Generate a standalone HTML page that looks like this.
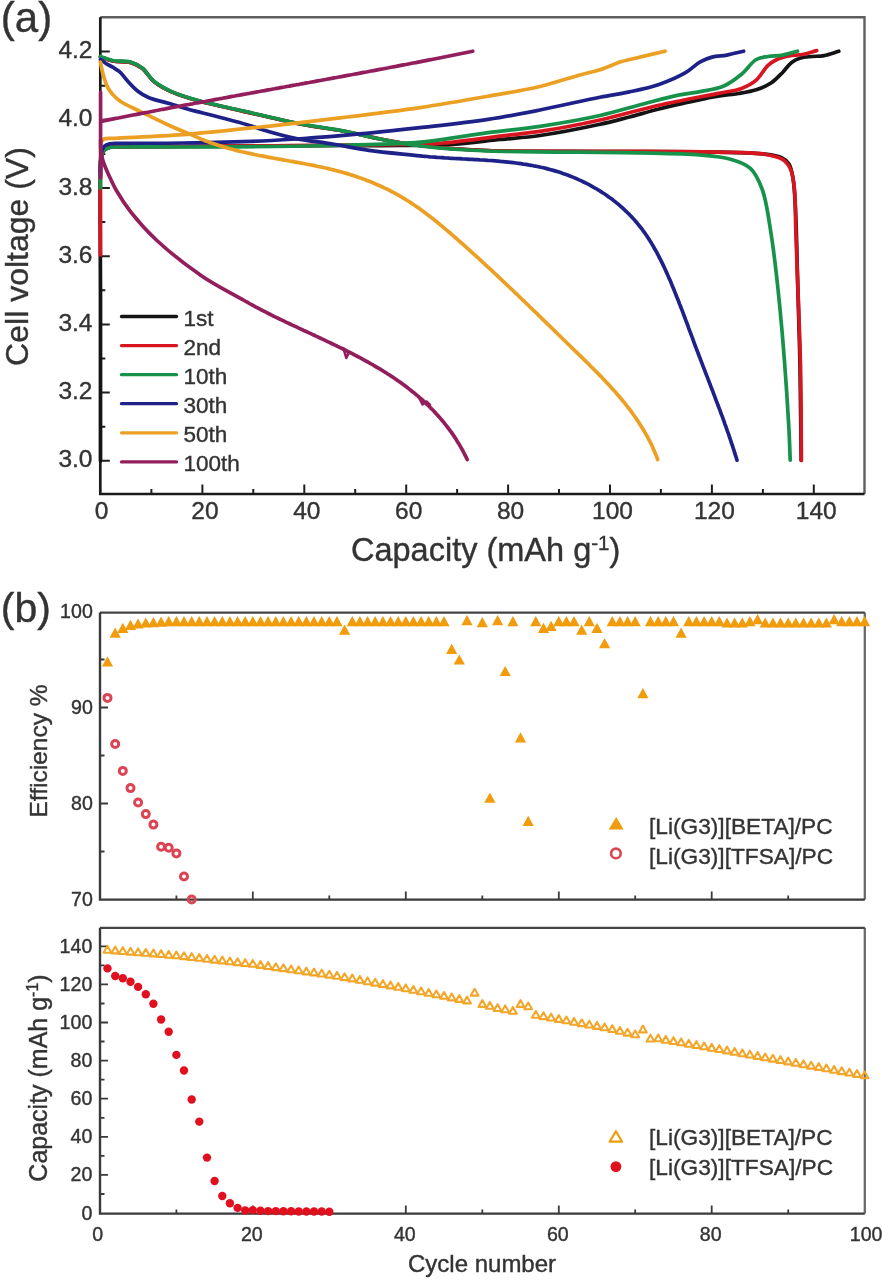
<!DOCTYPE html><html><head><meta charset="utf-8"><style>html,body{margin:0;padding:0;background:#fff;}svg{display:block;font-family:"Liberation Sans",sans-serif;filter:blur(0.7px);}text{stroke:#363636;stroke-width:0.4px;fill:#333;}</style></head><body>
<svg width="882" height="1280" viewBox="0 0 882 1280">
<rect width="882" height="1280" fill="#fff"/>
<path d="M100.3 17.2 H864.5 V494.0" fill="none" stroke="#5e5e5e" stroke-width="2.4"/>
<path d="M100.3 17.2 V494.0 H864.5" fill="none" stroke="#1a1a1a" stroke-width="2.7"/>
<path d="M100.3 460.8 h9.5 M100.3 426.7 h5.0 M100.3 392.6 h9.5 M100.3 358.5 h5.0 M100.3 324.4 h9.5 M100.3 290.3 h5.0 M100.3 256.2 h9.5 M100.3 222.1 h5.0 M100.3 188.0 h9.5 M100.3 153.9 h5.0 M100.3 119.8 h9.5 M100.3 85.7 h5.0 M100.3 51.6 h9.5 M151.4 494.0 v-5.0 M202.4 494.0 v-9.5 M253.3 494.0 v-5.0 M304.3 494.0 v-9.5 M355.2 494.0 v-5.0 M406.2 494.0 v-9.5 M457.1 494.0 v-5.0 M508.1 494.0 v-9.5 M559.0 494.0 v-5.0 M610.0 494.0 v-9.5 M660.9 494.0 v-5.0 M711.9 494.0 v-9.5 M762.9 494.0 v-5.0 M813.8 494.0 v-9.5" stroke="#1e1e1e" stroke-width="2"/>
<text x="92.5" y="467.3" font-size="24.5" fill="#2b2b2b" text-anchor="end">3.0</text>
<text x="92.5" y="399.1" font-size="24.5" fill="#2b2b2b" text-anchor="end">3.2</text>
<text x="92.5" y="330.9" font-size="24.5" fill="#2b2b2b" text-anchor="end">3.4</text>
<text x="92.5" y="262.7" font-size="24.5" fill="#2b2b2b" text-anchor="end">3.6</text>
<text x="92.5" y="194.5" font-size="24.5" fill="#2b2b2b" text-anchor="end">3.8</text>
<text x="92.5" y="126.3" font-size="24.5" fill="#2b2b2b" text-anchor="end">4.0</text>
<text x="92.5" y="58.1" font-size="24.5" fill="#2b2b2b" text-anchor="end">4.2</text>
<text x="101.5" y="519.2" font-size="24.5" fill="#2b2b2b" text-anchor="middle">0</text>
<text x="204.9" y="519.2" font-size="24.5" fill="#2b2b2b" text-anchor="middle">20</text>
<text x="306.8" y="519.2" font-size="24.5" fill="#2b2b2b" text-anchor="middle">40</text>
<text x="408.7" y="519.2" font-size="24.5" fill="#2b2b2b" text-anchor="middle">60</text>
<text x="510.6" y="519.2" font-size="24.5" fill="#2b2b2b" text-anchor="middle">80</text>
<text x="612.5" y="519.2" font-size="24.5" fill="#2b2b2b" text-anchor="middle">100</text>
<text x="714.4" y="519.2" font-size="24.5" fill="#2b2b2b" text-anchor="middle">120</text>
<text x="816.3" y="519.2" font-size="24.5" fill="#2b2b2b" text-anchor="middle">140</text>
<text x="351.0" y="561.0" font-size="32.5" fill="#262626" text-anchor="start">Capacity (mAh g<tspan dy="-11.5" font-size="20.5">-1</tspan><tspan dy="11.5">)</tspan></text>
<text transform="translate(27.5 256.5) rotate(-90)" x="0" y="0" font-size="32" fill="#262626" text-anchor="middle">Cell voltage (V)</text>
<text x="0.8" y="31.5" font-size="42.0" fill="#1a1a1a" text-anchor="start">(a)</text>
<path d="M100.5 461.0 C100.5 407.3 100.5 351.3 100.5 300.0 C100.5 253.0 99.5 183.5 100.5 165.0 C100.8 160.2 100.7 158.6 101.5 156.0 C102.2 153.7 103.0 151.5 104.5 150.0 C105.9 148.6 107.8 147.9 110.0 147.3 C112.8 146.6 115.2 146.9 120.0 146.8 C132.0 146.5 160.2 146.6 183.0 146.5 C210.1 146.3 244.0 146.0 272.0 145.8 C297.0 145.6 320.6 145.5 343.0 145.5 C363.0 145.5 381.6 145.7 400.0 145.5 C417.2 145.3 433.4 145.5 450.0 144.5 C466.7 143.5 484.3 141.1 500.0 139.5 C514.1 138.1 525.4 137.6 540.0 135.5 C558.0 132.9 583.6 127.9 600.0 124.3 C611.6 121.8 619.7 119.5 629.5 117.0 C639.3 114.4 649.2 111.5 659.0 109.0 C668.8 106.5 679.1 104.3 688.4 102.2 C696.7 100.4 705.0 98.5 712.0 97.2 C717.5 96.2 722.1 95.5 726.8 94.9 C731.0 94.3 734.3 94.2 738.6 93.5 C743.9 92.6 750.7 91.6 756.2 89.8 C761.5 88.1 766.6 86.0 771.0 83.0 C775.4 80.1 779.2 75.8 782.8 72.2 C786.0 68.9 788.4 64.8 791.6 62.4 C794.4 60.3 797.2 59.0 800.5 58.0 C804.1 56.9 808.4 56.9 812.3 56.5 C816.2 56.1 819.9 56.4 824.0 55.6 C828.7 54.7 833.9 52.7 838.8 51.2" fill="none" stroke="#141414" stroke-width="3.7" stroke-linecap="round" stroke-linejoin="round"/>
<path d="M100.5 57.0 C104.6 58.3 108.2 60.1 112.7 61.0 C118.0 62.1 125.2 61.0 130.4 62.4 C134.9 63.6 138.5 65.5 142.2 68.3 C146.5 71.6 149.3 77.8 154.0 81.6 C159.0 85.7 165.0 88.9 171.7 91.9 C179.5 95.4 188.2 98.0 198.2 100.8 C211.0 104.4 226.6 107.5 242.4 111.1 C260.6 115.3 283.4 120.8 301.4 124.3 C316.4 127.2 329.6 128.5 343.0 131.0 C355.7 133.4 367.4 136.6 380.0 139.0 C393.0 141.5 404.9 143.7 420.0 145.5 C439.4 147.8 461.7 149.4 487.0 150.5 C519.8 151.9 561.9 151.2 600.0 151.5 C638.9 151.8 687.6 151.3 718.0 152.1 C737.2 152.6 753.3 152.6 765.0 154.2 C772.1 155.1 777.8 155.9 782.0 158.0 C785.1 159.5 787.2 161.2 789.0 164.0 C791.2 167.5 792.0 172.3 793.0 178.0 C794.5 186.4 794.8 197.4 795.5 210.0 C796.5 228.2 796.8 253.1 797.5 277.0 C798.3 304.6 799.4 335.9 800.0 366.0 C800.6 397.0 800.8 429.0 801.2 460.5" fill="none" stroke="#141414" stroke-width="3.7" stroke-linecap="round" stroke-linejoin="round"/>
<path d="M100.5 255.0 C100.5 236.7 100.5 216.3 100.5 200.0 C100.5 187.0 100.1 172.8 100.5 165.0 C100.7 161.0 100.7 158.6 101.5 156.0 C102.2 153.7 103.0 151.5 104.5 150.0 C105.9 148.6 107.8 147.9 110.0 147.3 C112.8 146.6 115.2 146.9 120.0 146.8 C132.0 146.5 160.2 146.6 183.0 146.5 C210.1 146.3 244.0 146.0 272.0 145.8 C297.0 145.6 320.6 145.4 343.0 145.2 C363.0 145.0 382.4 144.9 400.0 144.5 C415.3 144.1 426.8 144.2 442.7 143.0 C462.8 141.4 492.7 136.9 510.7 134.8 C522.5 133.4 528.5 133.2 540.0 131.4 C556.5 128.9 580.1 124.4 600.0 120.0 C619.8 115.6 639.3 109.6 659.0 105.2 C678.6 100.8 702.8 96.5 718.0 93.4 C727.6 91.4 734.7 91.0 741.5 88.4 C747.2 86.3 751.9 83.8 756.2 80.1 C760.8 76.2 764.1 69.0 768.0 65.4 C771.0 62.7 773.6 61.1 776.9 59.5 C780.4 57.8 784.5 56.8 788.7 55.9 C793.3 55.0 798.7 55.2 803.4 54.3 C808.0 53.4 812.3 51.8 816.7 50.6" fill="none" stroke="#d8151f" stroke-width="3.7" stroke-linecap="round" stroke-linejoin="round"/>
<path d="M100.5 57.0 C104.6 58.3 108.2 60.1 112.7 61.0 C118.0 62.1 125.2 61.0 130.4 62.4 C134.9 63.6 138.5 65.5 142.2 68.3 C146.5 71.6 149.3 77.8 154.0 81.6 C159.0 85.7 165.0 88.9 171.7 91.9 C179.5 95.4 188.2 98.0 198.2 100.8 C211.0 104.4 226.6 107.5 242.4 111.1 C260.6 115.3 283.4 120.8 301.4 124.3 C316.4 127.2 329.6 128.5 343.0 131.0 C355.7 133.4 367.4 136.6 380.0 139.0 C393.0 141.5 404.9 143.7 420.0 145.5 C439.4 147.8 461.7 149.5 487.0 150.5 C519.8 151.8 561.9 151.0 600.0 151.3 C638.9 151.6 687.6 151.3 718.0 152.1 C737.2 152.6 753.2 152.2 765.0 154.2 C772.4 155.5 778.4 156.6 782.8 159.5 C786.4 161.9 788.6 164.9 790.5 169.0 C793.0 174.4 793.6 181.8 794.5 190.0 C795.7 201.2 795.3 216.1 795.8 230.0 C796.3 245.0 796.9 258.9 797.5 277.0 C798.4 302.0 799.8 335.9 800.5 366.0 C801.2 397.0 801.1 429.0 801.4 460.5" fill="none" stroke="#d8151f" stroke-width="3.7" stroke-linecap="round" stroke-linejoin="round"/>
<path d="M100.5 188.0 C100.5 182.0 100.5 174.1 100.5 170.0 C100.5 167.8 100.4 166.9 100.5 165.0 C100.6 162.4 100.7 158.6 101.5 156.0 C102.2 153.7 103.0 151.4 104.5 150.0 C105.9 148.6 107.8 148.0 110.0 147.5 C112.8 146.8 115.2 147.1 120.0 147.0 C132.0 146.7 160.2 147.1 183.0 147.0 C210.1 146.9 243.2 146.9 272.0 146.5 C299.0 146.2 325.3 145.8 350.7 145.0 C374.5 144.3 397.1 144.3 420.0 142.2 C442.8 140.1 466.8 135.4 488.0 132.6 C506.5 130.2 522.1 129.0 540.0 126.3 C559.3 123.4 581.6 119.6 600.0 115.5 C615.9 111.9 630.3 107.3 644.2 103.7 C656.6 100.5 669.3 97.0 679.6 94.9 C687.4 93.3 693.1 93.0 700.2 91.6 C707.8 90.1 716.7 89.1 723.8 86.0 C730.4 83.1 736.1 78.6 741.5 74.2 C746.9 69.8 751.2 62.4 756.2 59.5 C760.1 57.3 763.8 57.2 768.0 56.5 C772.6 55.7 777.9 56.0 782.8 55.1 C787.7 54.2 792.6 52.5 797.5 51.2" fill="none" stroke="#17924a" stroke-width="3.7" stroke-linecap="round" stroke-linejoin="round"/>
<path d="M100.5 56.5 C104.6 57.8 108.2 59.6 112.7 60.5 C118.0 61.6 125.2 60.5 130.4 62.0 C134.9 63.3 138.5 65.2 142.2 68.0 C146.5 71.3 149.3 77.5 154.0 81.3 C159.0 85.4 165.0 88.6 171.7 91.6 C179.5 95.1 188.2 97.7 198.2 100.5 C211.0 104.1 226.6 107.2 242.4 110.8 C260.6 115.0 283.4 120.5 301.4 124.0 C316.4 126.9 329.6 128.3 343.0 130.9 C355.7 133.3 367.4 136.5 380.0 139.0 C393.0 141.6 404.9 144.1 420.0 146.0 C439.4 148.4 466.0 150.1 487.0 151.0 C505.7 151.8 519.5 151.5 540.0 151.8 C568.5 152.2 612.8 152.2 642.0 152.9 C664.0 153.4 683.9 153.6 700.0 155.0 C711.6 156.0 720.9 156.5 729.7 159.0 C737.4 161.2 745.0 163.4 750.4 168.3 C755.9 173.3 758.9 180.5 762.1 189.0 C766.5 200.7 768.3 216.5 771.0 233.2 C774.4 254.6 777.1 279.4 779.8 306.9 C783.2 341.6 787.1 397.0 788.7 424.8 C789.6 440.0 789.7 448.4 790.2 460.2" fill="none" stroke="#17924a" stroke-width="3.7" stroke-linecap="round" stroke-linejoin="round"/>
<path d="M100.5 175.0 C100.5 170.7 100.3 166.0 100.5 162.0 C100.7 158.4 100.7 154.8 101.5 152.0 C102.2 149.7 103.0 147.4 104.5 146.0 C105.9 144.7 107.8 144.3 110.0 143.8 C112.8 143.2 115.2 143.5 120.0 143.4 C132.0 143.1 160.2 143.4 183.0 143.0 C210.1 142.5 247.8 141.6 272.0 140.5 C288.7 139.7 299.4 138.8 314.4 137.7 C331.4 136.4 351.0 134.8 368.9 133.1 C386.2 131.5 401.8 129.8 420.0 127.7 C441.1 125.3 466.9 122.6 488.0 119.4 C506.5 116.6 522.1 113.5 540.0 110.0 C559.3 106.2 583.5 100.4 600.0 97.2 C611.5 94.9 619.7 94.0 629.5 91.9 C639.4 89.8 649.6 87.8 659.0 84.5 C668.2 81.3 678.2 77.0 685.5 72.7 C691.3 69.3 695.4 64.5 700.2 61.8 C704.2 59.6 707.8 58.2 712.0 57.1 C716.6 55.9 721.7 56.0 726.8 55.1 C732.2 54.1 738.0 52.5 743.6 51.2" fill="none" stroke="#1e2288" stroke-width="3.7" stroke-linecap="round" stroke-linejoin="round"/>
<path d="M100.5 59.5 C102.3 60.8 104.0 62.2 106.0 63.5 C108.1 64.8 110.5 65.9 112.7 67.2 C115.0 68.6 117.3 69.8 119.5 71.7 C122.2 74.1 124.5 77.7 127.4 80.8 C130.5 84.2 133.9 88.1 137.6 91.0 C141.1 93.8 144.5 95.9 149.0 97.8 C154.7 100.2 162.3 101.4 169.4 103.5 C177.3 105.8 186.7 108.8 194.4 110.9 C201.0 112.7 205.8 113.6 213.0 115.5 C223.0 118.1 240.3 122.6 248.8 125.2 C253.6 126.7 255.2 127.5 260.0 129.0 C268.6 131.6 284.1 136.1 296.3 138.6 C308.3 141.1 320.5 142.0 332.6 144.0 C344.7 146.0 355.7 148.5 368.9 150.4 C384.4 152.6 403.0 154.0 420.0 155.8 M420.0 155.8 L422.4 156.1 L424.8 156.3 L427.2 156.5 L429.6 156.8 L432.1 157.0 L434.5 157.2 L437.0 157.4 L439.4 157.5 L441.9 157.7 L444.4 157.9 L446.9 158.0 L449.4 158.2 L451.9 158.3 L454.4 158.5 L457.0 158.6 L459.5 158.7 L462.0 158.9 L464.6 159.0 L467.1 159.1 L469.7 159.3 L472.2 159.4 L474.8 159.6 L477.3 159.7 L479.9 159.9 L482.5 160.0 L485.0 160.2 L487.6 160.4 L490.2 160.5 L492.7 160.7 L495.3 160.9 L497.9 161.1 L500.4 161.4 L503.0 161.6 L505.6 161.8 L508.1 162.1 L510.7 162.4 L513.2 162.7 L515.8 163.0 L518.3 163.3 L520.9 163.7 L523.4 164.1 L525.9 164.4 L528.5 164.9 L531.0 165.3 L533.5 165.8 L536.0 166.2 L538.5 166.7 L541.0 167.3 L543.4 167.8 L545.9 168.4 L548.4 169.1 L550.8 169.7 L553.2 170.4 L555.7 171.1 L558.1 171.8 L560.5 172.6 L562.8 173.4 L565.2 174.2 L567.6 175.1 L569.9 176.0 L572.2 176.9 L574.6 177.9 L576.8 178.8 L579.1 179.9 L581.4 180.9 L583.6 182.0 L585.9 183.1 L588.1 184.2 L590.3 185.4 L592.4 186.6 L594.6 187.8 L596.7 189.0 L598.9 190.3 L600.9 191.6 L603.0 193.0 L605.1 194.3 L607.1 195.7 L609.1 197.2 L611.1 198.6 L613.1 200.1 L615.0 201.6 L616.9 203.1 L618.8 204.7 L620.7 206.3 L622.5 207.9 L624.3 209.6 L626.1 211.3 L627.8 213.0 L629.6 214.7 L631.3 216.5 L632.9 218.3 L634.6 220.1 L636.2 222.0 L637.8 223.9 L639.3 225.8 L640.9 227.7 L642.4 229.7 L643.8 231.7 L645.3 233.7 L646.7 235.7 L648.0 237.8 L649.4 239.9 L650.7 242.0 L652.0 244.1 L653.3 246.3 L654.5 248.5 L655.8 250.7 L657.0 252.9 L658.2 255.1 L659.3 257.3 L660.5 259.6 L661.6 261.9 L662.7 264.1 L663.8 266.4 L664.9 268.7 L665.9 271.1 L667.0 273.4 L668.0 275.7 L669.0 278.1 L670.1 280.4 L671.1 282.8 L672.0 285.1 L673.0 287.5 L674.0 289.8 L674.9 292.2 L675.9 294.6 L676.8 297.0 L677.8 299.3 L678.7 301.7 L679.6 304.1 L680.6 306.5 L681.5 308.9 L682.4 311.2 L683.3 313.6 L684.2 316.0 L685.1 318.4 L686.0 320.8 L686.9 323.2 L687.8 325.5 L688.6 327.9 L689.5 330.3 L690.4 332.7 L691.3 335.1 L692.2 337.4 L693.1 339.8 L693.9 342.2 L694.8 344.6 L695.7 346.9 L696.6 349.3 L697.5 351.7 L698.4 354.0 L699.3 356.4 L700.2 358.7 L701.1 361.1 L702.0 363.4 L702.9 365.8 L703.8 368.1 L704.7 370.4 L705.6 372.8 L706.5 375.1 L707.4 377.4 L708.3 379.8 L709.2 382.1 L710.1 384.4 L711.0 386.8 L711.9 389.1 L712.8 391.4 L713.7 393.8 L714.6 396.1 L715.4 398.5 L716.3 400.8 L717.2 403.1 L718.1 405.5 L719.0 407.8 L719.9 410.2 L720.7 412.5 L721.6 414.8 L722.5 417.2 L723.3 419.5 L724.2 421.9 L725.0 424.3 L725.9 426.6 L726.7 429.0 L727.5 431.4 L728.4 433.7 L729.2 436.1 L730.0 438.5 L730.8 440.9 L731.6 443.3 L732.4 445.7 L733.2 448.1 L734.0 450.5 L734.7 452.9 L735.5 455.3 L736.3 457.8 L737.0 460.2" fill="none" stroke="#1e2288" stroke-width="3.7" stroke-linecap="round" stroke-linejoin="round"/>
<path d="M101.0 142.0 C102.0 141.0 102.5 139.7 104.0 139.0 C106.4 137.9 109.8 138.6 115.0 138.3 C128.0 137.5 158.8 136.5 183.0 134.7 C210.7 132.6 244.3 128.8 272.0 125.8 C296.2 123.2 316.4 120.8 340.0 117.9 C365.6 114.8 394.4 111.4 420.0 107.6 C443.6 104.1 466.9 100.0 488.0 96.3 C506.5 93.0 523.8 90.4 540.0 86.5 C554.5 83.0 569.7 77.7 580.8 74.7 C588.4 72.6 593.5 71.9 600.0 69.8 C607.1 67.6 616.0 63.2 621.6 61.5 C625.0 60.4 626.2 60.4 630.0 59.5 C637.7 57.7 653.3 54.0 665.0 51.2" fill="none" stroke="#eba024" stroke-width="3.7" stroke-linecap="round" stroke-linejoin="round"/>
<path d="M100.5 62.0 C101.0 64.7 101.4 67.2 102.0 70.0 C102.7 73.1 103.7 76.6 104.7 79.7 C105.7 82.6 106.6 85.5 108.0 88.0 C109.3 90.4 111.0 92.5 112.7 94.4 C114.3 96.3 116.1 98.0 118.0 99.5 C119.9 101.0 121.4 102.0 124.0 103.5 C128.2 105.9 134.7 108.7 141.0 111.8 C148.8 115.6 158.3 120.5 167.2 124.5 C176.1 128.6 185.3 132.2 194.4 136.1 M194.4 136.1 L196.7 137.1 L199.0 138.1 L201.3 139.1 L203.6 140.0 L205.9 141.0 L208.3 141.8 L210.6 142.7 L213.0 143.5 L215.3 144.3 L217.7 145.1 L220.1 145.9 L222.5 146.6 L224.9 147.3 L227.3 148.0 L229.8 148.7 L232.2 149.3 L234.6 150.0 L237.1 150.6 L239.5 151.2 L242.0 151.8 L244.4 152.3 L246.9 152.9 L249.4 153.4 L251.9 153.9 L254.4 154.5 L256.8 155.0 L259.3 155.5 L261.8 155.9 L264.3 156.4 L266.8 156.9 L269.3 157.4 L271.8 157.8 L274.4 158.3 L276.9 158.7 L279.4 159.2 L281.9 159.6 L284.4 160.1 L286.9 160.5 L289.4 161.0 L291.9 161.4 L294.5 161.9 L297.0 162.3 L299.5 162.8 L302.0 163.2 L304.5 163.7 L307.0 164.2 L309.5 164.7 L312.0 165.1 L314.5 165.6 L316.9 166.2 L319.4 166.7 L321.9 167.2 L324.4 167.8 L326.8 168.3 L329.3 168.9 L331.8 169.5 L334.2 170.1 L336.7 170.7 L339.1 171.4 L341.5 172.0 L343.9 172.7 L346.3 173.4 L348.7 174.1 L351.1 174.9 L353.5 175.6 L355.9 176.4 L358.3 177.2 L360.6 178.1 L363.0 178.9 L365.3 179.8 L367.6 180.7 L370.0 181.6 L372.3 182.5 L374.6 183.5 L376.8 184.5 L379.1 185.5 L381.4 186.5 L383.6 187.6 L385.9 188.6 L388.1 189.7 L390.3 190.9 L392.5 192.0 L394.7 193.2 L396.9 194.4 L399.1 195.6 L401.2 196.8 L403.3 198.1 L405.5 199.4 L407.6 200.7 L409.7 202.0 L411.8 203.4 L413.8 204.8 L415.9 206.2 L418.0 207.6 L420.0 209.0 L422.0 210.5 L424.0 212.0 L426.0 213.5 L428.0 215.0 L430.0 216.5 L432.0 218.1 L434.0 219.6 L435.9 221.2 L437.9 222.8 L439.8 224.4 L441.8 226.0 L443.7 227.6 L445.6 229.3 L447.6 230.9 L449.5 232.5 L451.4 234.2 L453.3 235.8 L455.2 237.5 L457.1 239.2 L459.0 240.8 L460.9 242.5 L462.8 244.2 L464.7 245.9 L466.6 247.6 L468.4 249.2 L470.3 250.9 L472.2 252.6 L474.1 254.3 L475.9 256.0 L477.8 257.7 L479.7 259.4 L481.5 261.1 L483.4 262.9 L485.3 264.6 L487.1 266.3 L489.0 268.0 L490.8 269.7 L492.7 271.4 L494.5 273.2 L496.4 274.9 L498.2 276.6 L500.1 278.4 L501.9 280.1 L503.7 281.8 L505.6 283.6 L507.4 285.3 L509.2 287.0 L511.1 288.8 L512.9 290.5 L514.7 292.3 L516.6 294.0 L518.4 295.8 L520.2 297.5 L522.0 299.3 L523.9 301.0 L525.7 302.8 L527.5 304.5 L529.3 306.3 L531.1 308.0 L532.9 309.8 L534.8 311.5 L536.6 313.3 L538.4 315.1 L540.2 316.8 L542.0 318.6 L543.8 320.4 L545.6 322.1 L547.4 323.9 L549.3 325.6 L551.1 327.4 L552.9 329.2 L554.7 330.9 L556.5 332.7 L558.3 334.5 L560.1 336.2 L561.9 338.0 L563.7 339.8 L565.5 341.5 L567.3 343.3 L569.1 345.0 L570.9 346.8 L572.7 348.6 L574.5 350.3 L576.4 352.1 L578.2 353.9 L580.0 355.6 L581.8 357.4 L583.6 359.1 L585.4 360.9 L587.2 362.7 L589.0 364.4 L590.7 366.2 L592.5 368.0 L594.3 369.8 L596.1 371.6 L597.8 373.3 L599.6 375.1 L601.4 376.9 L603.1 378.8 L604.8 380.6 L606.5 382.4 L608.3 384.2 L610.0 386.1 L611.6 387.9 L613.3 389.8 L615.0 391.6 L616.6 393.5 L618.3 395.4 L619.9 397.3 L621.5 399.2 L623.1 401.1 L624.7 403.1 L626.2 405.0 L627.7 407.0 L629.3 409.0 L630.8 410.9 L632.2 413.0 L633.7 415.0 L635.1 417.0 L636.6 419.1 L638.0 421.2 L639.3 423.2 L640.7 425.4 L642.0 427.5 L643.3 429.6 L644.6 431.8 L645.8 434.0 L647.1 436.2 L648.3 438.4 L649.4 440.7 L650.6 442.9 L651.7 445.2 L652.8 447.6 L653.8 449.9 L654.8 452.3 L655.8 454.6 L656.8 457.1 L657.7 459.5" fill="none" stroke="#eba024" stroke-width="3.7" stroke-linecap="round" stroke-linejoin="round"/>
<path d="M100.9 121.4 L103.4 120.9 L105.8 120.4 L108.3 119.9 L110.8 119.4 L113.3 118.9 L115.7 118.4 L118.2 118.0 L120.7 117.5 L123.2 117.0 L125.6 116.5 L128.1 116.0 L130.6 115.5 L133.1 115.0 L135.5 114.6 L138.0 114.1 L140.5 113.6 L143.0 113.1 L145.5 112.6 L147.9 112.2 L150.4 111.7 L152.9 111.2 L155.4 110.7 L157.8 110.3 L160.3 109.8 L162.8 109.3 L165.3 108.9 L167.8 108.4 L170.2 107.9 L172.7 107.5 L175.2 107.0 L177.7 106.5 L180.2 106.1 L182.6 105.6 L185.1 105.1 L187.6 104.7 L190.1 104.2 L192.6 103.8 L195.0 103.3 L197.5 102.8 L200.0 102.4 L202.5 101.9 L205.0 101.5 L207.4 101.0 L209.9 100.5 L212.4 100.1 L214.9 99.6 L217.4 99.2 L219.8 98.7 L222.3 98.3 L224.8 97.8 L227.3 97.4 L229.8 96.9 L232.2 96.4 L234.7 96.0 L237.2 95.5 L239.7 95.1 L242.2 94.6 L244.7 94.2 L247.1 93.7 L249.6 93.3 L252.1 92.8 L254.6 92.4 L257.1 91.9 L259.5 91.5 L262.0 91.0 L264.5 90.6 L267.0 90.1 L269.5 89.7 L272.0 89.2 L274.4 88.8 L276.9 88.3 L279.4 87.9 L281.9 87.4 L284.4 87.0 L286.8 86.5 L289.3 86.1 L291.8 85.6 L294.3 85.2 L296.8 84.7 L299.3 84.3 L301.7 83.8 L304.2 83.4 L306.7 82.9 L309.2 82.5 L311.7 82.0 L314.1 81.6 L316.6 81.1 L319.1 80.7 L321.6 80.2 L324.1 79.7 L326.5 79.3 L329.0 78.8 L331.5 78.4 L334.0 77.9 L336.5 77.5 L339.0 77.0 L341.4 76.6 L343.9 76.1 L346.4 75.6 L348.9 75.2 L351.4 74.7 L353.8 74.3 L356.3 73.8 L358.8 73.4 L361.3 72.9 L363.8 72.4 L366.2 72.0 L368.7 71.5 L371.2 71.0 L373.7 70.6 L376.2 70.1 L378.6 69.6 L381.1 69.2 L383.6 68.7 L386.1 68.2 L388.5 67.8 L391.0 67.3 L393.5 66.8 L396.0 66.4 L398.5 65.9 L400.9 65.4 L403.4 64.9 L405.9 64.5 L408.4 64.0 L410.8 63.5 L413.3 63.0 L415.8 62.6 L418.3 62.1 L420.8 61.6 L423.2 61.1 L425.7 60.6 L428.2 60.1 L430.7 59.7 L433.1 59.2 L435.6 58.7 L438.1 58.2 L440.6 57.7 L443.0 57.2 L445.5 56.7 L448.0 56.2 L450.5 55.7 L452.9 55.2 L455.4 54.7 L457.9 54.2 L460.3 53.7 L462.8 53.2 L465.3 52.7 L467.8 52.2 L470.2 51.7 L472.7 51.2" fill="none" stroke="#921f5c" stroke-width="3.7" stroke-linecap="round" stroke-linejoin="round"/>
<path d="M100.6 140.0 C100.7 143.3 100.6 147.1 100.9 150.0 C101.1 152.3 101.4 154.0 101.8 156.0 C102.2 158.0 102.5 159.5 103.3 161.9 C104.6 165.7 107.1 171.5 109.3 176.2 C111.5 181.0 113.4 185.4 116.4 190.5 C120.2 197.0 124.9 204.5 130.7 211.9 C137.8 221.0 146.5 230.9 156.9 240.5 C169.5 252.2 186.9 265.8 202.1 276.2 C216.2 285.8 230.7 292.7 245.0 301.0 M245.0 301.0 L247.2 302.2 L249.4 303.5 L251.6 304.7 L253.8 305.9 L256.0 307.1 L258.2 308.2 L260.4 309.4 L262.7 310.6 L264.9 311.7 L267.2 312.9 L269.4 314.0 L271.7 315.1 L273.9 316.3 L276.2 317.4 L278.5 318.5 L280.8 319.6 L283.1 320.7 L285.4 321.8 L287.7 322.9 L290.0 324.0 L292.3 325.1 L294.6 326.1 L296.9 327.2 L299.2 328.3 L301.5 329.4 L303.8 330.5 L306.1 331.5 L308.5 332.6 L310.8 333.7 L313.1 334.8 L315.4 335.8 L317.7 336.9 L320.0 338.0 L322.4 339.1 L324.7 340.2 L327.0 341.3 L329.3 342.4 L331.6 343.5 L333.9 344.6 L336.2 345.7 L338.5 346.8 L340.8 347.9 L343.1 349.0 L345.4 350.2 L347.6 351.3 L349.9 352.5 L352.2 353.6 L354.4 354.8 L356.7 356.0 L358.9 357.2 L361.2 358.4 L363.4 359.6 L365.6 360.8 L367.9 362.0 L370.1 363.3 L372.3 364.5 L374.5 365.8 L376.6 367.1 L378.8 368.4 L381.0 369.7 L383.1 371.0 L385.3 372.3 L387.4 373.7 L389.5 375.0 L391.6 376.4 L393.7 377.8 L395.8 379.2 L397.9 380.7 L399.9 382.1 L401.9 383.6 L404.0 385.1 L406.0 386.6 L408.0 388.1 L409.9 389.6 L411.9 391.2 L413.9 392.7 L415.8 394.3 L417.7 395.9 L419.6 397.6 L421.5 399.2 L423.3 400.9 L425.1 402.6 L427.0 404.3 L428.8 406.0 L430.5 407.8 L432.3 409.5 L434.0 411.3 L435.7 413.2 L437.4 415.0 L439.1 416.9 L440.7 418.8 L442.4 420.7 L444.0 422.6 L445.5 424.6 L447.1 426.6 L448.6 428.6 L450.1 430.6 L451.6 432.7 L453.1 434.8 L454.5 436.9 L455.9 439.0 L457.2 441.2 L458.6 443.4 L459.9 445.6 L461.2 447.9 L462.5 450.2 L463.7 452.5 L464.9 454.8 L466.1 457.2 L467.2 459.6" fill="none" stroke="#921f5c" stroke-width="3.7" stroke-linecap="round" stroke-linejoin="round"/>
<path d="M343.5 348.5 L346.3 358 L348.8 352.5 M418.5 396.5 L422.5 404.5 L426.5 401.5 L430 405" fill="none" stroke="#921f5c" stroke-width="2.6" stroke-linejoin="round" stroke-linecap="round"/>
<path d="M100.6 178 V92" stroke="#921f5c" stroke-width="3.6" stroke-linecap="round"/>
<path d="M121.5 316.5 H176.5" stroke="#141414" stroke-width="3.3" stroke-linecap="round"/>
<text x="183.5" y="325.9" font-size="22.5" fill="#2b2b2b" text-anchor="start">1st</text>
<path d="M121.5 345.6 H176.5" stroke="#d8151f" stroke-width="3.3" stroke-linecap="round"/>
<text x="183.5" y="355.0" font-size="22.5" fill="#2b2b2b" text-anchor="start">2nd</text>
<path d="M121.5 374.7 H176.5" stroke="#17924a" stroke-width="3.3" stroke-linecap="round"/>
<text x="183.5" y="384.1" font-size="22.5" fill="#2b2b2b" text-anchor="start">10th</text>
<path d="M121.5 403.7 H176.5" stroke="#1e2288" stroke-width="3.3" stroke-linecap="round"/>
<text x="183.5" y="413.1" font-size="22.5" fill="#2b2b2b" text-anchor="start">30th</text>
<path d="M121.5 432.8 H176.5" stroke="#eba024" stroke-width="3.3" stroke-linecap="round"/>
<text x="183.5" y="442.2" font-size="22.5" fill="#2b2b2b" text-anchor="start">50th</text>
<path d="M121.5 461.9 H176.5" stroke="#921f5c" stroke-width="3.3" stroke-linecap="round"/>
<text x="183.5" y="471.3" font-size="22.5" fill="#2b2b2b" text-anchor="start">100th</text>
<path d="M864.8 612.6 V899.6" fill="none" stroke="#6a6a6a" stroke-width="2.3"/>
<path d="M100.0 612.6 H864.8" fill="none" stroke="#444" stroke-width="2.3"/>
<path d="M100.0 612.6 V899.6 H864.8" fill="none" stroke="#3a3a3a" stroke-width="2.4"/>
<path d="M864.8 927.8 V1213.6" fill="none" stroke="#6a6a6a" stroke-width="2.3"/>
<path d="M100.0 927.8 H864.8" fill="none" stroke="#444" stroke-width="2.3"/>
<path d="M100.0 927.8 V1213.6 H864.8" fill="none" stroke="#3a3a3a" stroke-width="2.4"/>
<path d="M100.0 851.5 h4.5 M100.0 803.5 h8.0 M100.0 755.5 h4.5 M100.0 707.5 h8.0 M100.0 659.5 h4.5 M176.4 899.6 v-4.0 M252.8 899.6 v-8.0 M329.3 899.6 v-4.0 M405.8 899.6 v-8.0 M482.3 899.6 v-4.0 M558.8 899.6 v-8.0 M635.2 899.6 v-4.0 M711.7 899.6 v-8.0 M788.2 899.6 v-4.0 M100.0 1194.0 h4.5 M100.0 1174.9 h8.0 M100.0 1155.8 h4.5 M100.0 1136.8 h8.0 M100.0 1117.8 h4.5 M100.0 1098.7 h8.0 M100.0 1079.7 h4.5 M100.0 1060.6 h8.0 M100.0 1041.5 h4.5 M100.0 1022.5 h8.0 M100.0 1003.5 h4.5 M100.0 984.4 h8.0 M100.0 965.4 h4.5 M100.0 946.3 h8.0 M176.4 1213.6 v-4.0 M252.8 1213.6 v-8.0 M329.3 1213.6 v-4.0 M405.8 1213.6 v-8.0 M482.3 1213.6 v-4.0 M558.8 1213.6 v-8.0 M635.2 1213.6 v-4.0 M711.7 1213.6 v-8.0 M788.2 1213.6 v-4.0" stroke="#3a3a3a" stroke-width="1.8"/>
<text x="92.8" y="905.6" font-size="19.6" fill="#2b2b2b" text-anchor="end">70</text>
<text x="92.8" y="809.6" font-size="19.6" fill="#2b2b2b" text-anchor="end">80</text>
<text x="92.8" y="713.6" font-size="19.6" fill="#2b2b2b" text-anchor="end">90</text>
<text x="92.8" y="617.6" font-size="19.6" fill="#2b2b2b" text-anchor="end">100</text>
<text x="92.3" y="1219.5" font-size="19.6" fill="#2b2b2b" text-anchor="end">0</text>
<text x="92.3" y="1181.4" font-size="19.6" fill="#2b2b2b" text-anchor="end">20</text>
<text x="92.3" y="1143.3" font-size="19.6" fill="#2b2b2b" text-anchor="end">40</text>
<text x="92.3" y="1105.2" font-size="19.6" fill="#2b2b2b" text-anchor="end">60</text>
<text x="92.3" y="1067.1" font-size="19.6" fill="#2b2b2b" text-anchor="end">80</text>
<text x="92.3" y="1029.0" font-size="19.6" fill="#2b2b2b" text-anchor="end">100</text>
<text x="92.3" y="990.9" font-size="19.6" fill="#2b2b2b" text-anchor="end">120</text>
<text x="92.3" y="952.8" font-size="19.6" fill="#2b2b2b" text-anchor="end">140</text>
<text x="97.8" y="1241.0" font-size="19.6" fill="#2b2b2b" text-anchor="middle">0</text>
<text x="251.8" y="1241.0" font-size="19.6" fill="#2b2b2b" text-anchor="middle">20</text>
<text x="404.8" y="1241.0" font-size="19.6" fill="#2b2b2b" text-anchor="middle">40</text>
<text x="557.8" y="1241.0" font-size="19.6" fill="#2b2b2b" text-anchor="middle">60</text>
<text x="710.7" y="1241.0" font-size="19.6" fill="#2b2b2b" text-anchor="middle">80</text>
<text x="866.1" y="1241.0" font-size="19.6" fill="#2b2b2b" text-anchor="middle">100</text>
<text x="408.0" y="1271.5" font-size="24.0" fill="#262626" text-anchor="start">Cycle number</text>
<text transform="translate(47 751) rotate(-90)" font-size="24.5" fill="#262626" text-anchor="middle">Efficiency %</text>
<text transform="translate(47 1078) rotate(-90)" font-size="25" fill="#262626" text-anchor="middle">Capacity (mAh g<tspan dy="-9" font-size="16">-1</tspan><tspan dy="9">)</tspan></text>
<text x="0.8" y="621.6" font-size="41.0" fill="#1a1a1a" text-anchor="start">(b)</text>
<polygon points="101.9,666.5 113.1,666.5 107.5,656.3" fill="#f09c0c"/>
<polygon points="109.6,637.7 120.8,637.7 115.2,627.5" fill="#f09c0c"/>
<polygon points="117.2,632.9 128.4,632.9 122.8,622.7" fill="#f09c0c"/>
<polygon points="124.9,630.0 136.1,630.0 130.5,619.8" fill="#f09c0c"/>
<polygon points="132.5,628.6 143.7,628.6 138.1,618.4" fill="#f09c0c"/>
<polygon points="140.2,627.6 151.4,627.6 145.8,617.4" fill="#f09c0c"/>
<polygon points="147.8,627.2 159.0,627.2 153.4,617.0" fill="#f09c0c"/>
<polygon points="155.5,626.7 166.7,626.7 161.1,616.5" fill="#f09c0c"/>
<polygon points="163.1,626.2 174.3,626.2 168.7,616.0" fill="#f09c0c"/>
<polygon points="170.8,626.2 182.0,626.2 176.4,616.0" fill="#f09c0c"/>
<polygon points="178.4,626.2 189.6,626.2 184.0,616.0" fill="#f09c0c"/>
<polygon points="186.1,626.2 197.3,626.2 191.7,616.0" fill="#f09c0c"/>
<polygon points="193.7,626.2 204.9,626.2 199.3,616.0" fill="#f09c0c"/>
<polygon points="201.4,626.2 212.6,626.2 207.0,616.0" fill="#f09c0c"/>
<polygon points="209.0,626.2 220.2,626.2 214.6,616.0" fill="#f09c0c"/>
<polygon points="216.7,626.2 227.9,626.2 222.3,616.0" fill="#f09c0c"/>
<polygon points="224.3,626.2 235.5,626.2 229.9,616.0" fill="#f09c0c"/>
<polygon points="232.0,626.2 243.2,626.2 237.6,616.0" fill="#f09c0c"/>
<polygon points="239.6,626.2 250.8,626.2 245.2,616.0" fill="#f09c0c"/>
<polygon points="247.2,626.2 258.4,626.2 252.8,616.0" fill="#f09c0c"/>
<polygon points="254.9,626.2 266.1,626.2 260.5,616.0" fill="#f09c0c"/>
<polygon points="262.5,626.2 273.7,626.2 268.1,616.0" fill="#f09c0c"/>
<polygon points="270.2,626.2 281.4,626.2 275.8,616.0" fill="#f09c0c"/>
<polygon points="277.8,626.2 289.0,626.2 283.4,616.0" fill="#f09c0c"/>
<polygon points="285.5,626.2 296.7,626.2 291.1,616.0" fill="#f09c0c"/>
<polygon points="293.1,626.2 304.3,626.2 298.7,616.0" fill="#f09c0c"/>
<polygon points="300.8,626.2 312.0,626.2 306.4,616.0" fill="#f09c0c"/>
<polygon points="308.4,626.2 319.6,626.2 314.0,616.0" fill="#f09c0c"/>
<polygon points="316.1,626.2 327.3,626.2 321.7,616.0" fill="#f09c0c"/>
<polygon points="323.7,626.2 334.9,626.2 329.3,616.0" fill="#f09c0c"/>
<polygon points="331.4,626.2 342.6,626.2 337.0,616.0" fill="#f09c0c"/>
<polygon points="339.0,634.8 350.2,634.8 344.6,624.6" fill="#f09c0c"/>
<polygon points="346.7,626.2 357.9,626.2 352.3,616.0" fill="#f09c0c"/>
<polygon points="354.3,626.2 365.5,626.2 359.9,616.0" fill="#f09c0c"/>
<polygon points="362.0,626.2 373.2,626.2 367.6,616.0" fill="#f09c0c"/>
<polygon points="369.6,626.2 380.8,626.2 375.2,616.0" fill="#f09c0c"/>
<polygon points="377.3,626.2 388.5,626.2 382.9,616.0" fill="#f09c0c"/>
<polygon points="384.9,626.2 396.1,626.2 390.5,616.0" fill="#f09c0c"/>
<polygon points="392.6,626.2 403.8,626.2 398.2,616.0" fill="#f09c0c"/>
<polygon points="400.2,626.2 411.4,626.2 405.8,616.0" fill="#f09c0c"/>
<polygon points="407.8,626.2 419.0,626.2 413.4,616.0" fill="#f09c0c"/>
<polygon points="415.5,626.2 426.7,626.2 421.1,616.0" fill="#f09c0c"/>
<polygon points="423.1,626.2 434.3,626.2 428.7,616.0" fill="#f09c0c"/>
<polygon points="430.8,626.2 442.0,626.2 436.4,616.0" fill="#f09c0c"/>
<polygon points="438.4,626.2 449.6,626.2 444.0,616.0" fill="#f09c0c"/>
<polygon points="446.1,654.0 457.3,654.0 451.7,643.8" fill="#f09c0c"/>
<polygon points="453.7,664.6 464.9,664.6 459.3,654.4" fill="#f09c0c"/>
<polygon points="461.4,625.2 472.6,625.2 467.0,615.0" fill="#f09c0c"/>
<polygon points="476.7,627.2 487.9,627.2 482.3,617.0" fill="#f09c0c"/>
<polygon points="484.3,802.8 495.5,802.8 489.9,792.6" fill="#f09c0c"/>
<polygon points="492.0,625.2 503.2,625.2 497.6,615.0" fill="#f09c0c"/>
<polygon points="499.6,676.1 510.8,676.1 505.2,665.9" fill="#f09c0c"/>
<polygon points="507.3,626.2 518.5,626.2 512.9,616.0" fill="#f09c0c"/>
<polygon points="514.9,742.4 526.1,742.4 520.5,732.2" fill="#f09c0c"/>
<polygon points="522.6,825.9 533.8,825.9 528.2,815.7" fill="#f09c0c"/>
<polygon points="530.2,626.2 541.4,626.2 535.8,616.0" fill="#f09c0c"/>
<polygon points="537.9,632.9 549.1,632.9 543.5,622.7" fill="#f09c0c"/>
<polygon points="545.5,631.0 556.7,631.0 551.1,620.8" fill="#f09c0c"/>
<polygon points="553.1,626.2 564.4,626.2 558.8,616.0" fill="#f09c0c"/>
<polygon points="560.8,626.2 572.0,626.2 566.4,616.0" fill="#f09c0c"/>
<polygon points="568.4,626.2 579.6,626.2 574.0,616.0" fill="#f09c0c"/>
<polygon points="576.1,634.8 587.3,634.8 581.7,624.6" fill="#f09c0c"/>
<polygon points="583.7,626.2 594.9,626.2 589.3,616.0" fill="#f09c0c"/>
<polygon points="591.4,632.9 602.6,632.9 597.0,622.7" fill="#f09c0c"/>
<polygon points="599.0,648.3 610.2,648.3 604.6,638.1" fill="#f09c0c"/>
<polygon points="606.7,626.2 617.9,626.2 612.3,616.0" fill="#f09c0c"/>
<polygon points="614.3,626.2 625.5,626.2 619.9,616.0" fill="#f09c0c"/>
<polygon points="622.0,626.2 633.2,626.2 627.6,616.0" fill="#f09c0c"/>
<polygon points="629.6,626.2 640.8,626.2 635.2,616.0" fill="#f09c0c"/>
<polygon points="637.3,698.2 648.5,698.2 642.9,688.0" fill="#f09c0c"/>
<polygon points="644.9,626.2 656.1,626.2 650.5,616.0" fill="#f09c0c"/>
<polygon points="652.6,626.2 663.8,626.2 658.2,616.0" fill="#f09c0c"/>
<polygon points="660.2,626.2 671.4,626.2 665.8,616.0" fill="#f09c0c"/>
<polygon points="667.9,626.2 679.1,626.2 673.5,616.0" fill="#f09c0c"/>
<polygon points="675.5,637.7 686.7,637.7 681.1,627.5" fill="#f09c0c"/>
<polygon points="683.2,626.2 694.4,626.2 688.8,616.0" fill="#f09c0c"/>
<polygon points="690.8,626.2 702.0,626.2 696.4,616.0" fill="#f09c0c"/>
<polygon points="698.5,626.2 709.7,626.2 704.1,616.0" fill="#f09c0c"/>
<polygon points="706.1,626.2 717.3,626.2 711.7,616.0" fill="#f09c0c"/>
<polygon points="713.7,626.2 724.9,626.2 719.3,616.0" fill="#f09c0c"/>
<polygon points="721.4,627.6 732.6,627.6 727.0,617.4" fill="#f09c0c"/>
<polygon points="729.0,627.6 740.2,627.6 734.6,617.4" fill="#f09c0c"/>
<polygon points="736.7,627.6 747.9,627.6 742.3,617.4" fill="#f09c0c"/>
<polygon points="744.3,626.2 755.5,626.2 749.9,616.0" fill="#f09c0c"/>
<polygon points="752.0,624.3 763.2,624.3 757.6,614.1" fill="#f09c0c"/>
<polygon points="759.6,627.6 770.8,627.6 765.2,617.4" fill="#f09c0c"/>
<polygon points="767.3,627.6 778.5,627.6 772.9,617.4" fill="#f09c0c"/>
<polygon points="774.9,627.6 786.1,627.6 780.5,617.4" fill="#f09c0c"/>
<polygon points="782.6,627.6 793.8,627.6 788.2,617.4" fill="#f09c0c"/>
<polygon points="790.2,627.6 801.4,627.6 795.8,617.4" fill="#f09c0c"/>
<polygon points="797.9,627.6 809.1,627.6 803.5,617.4" fill="#f09c0c"/>
<polygon points="805.5,627.6 816.7,627.6 811.1,617.4" fill="#f09c0c"/>
<polygon points="813.2,627.6 824.4,627.6 818.8,617.4" fill="#f09c0c"/>
<polygon points="820.8,627.6 832.0,627.6 826.4,617.4" fill="#f09c0c"/>
<polygon points="828.5,624.3 839.7,624.3 834.1,614.1" fill="#f09c0c"/>
<polygon points="836.1,626.2 847.3,626.2 841.7,616.0" fill="#f09c0c"/>
<polygon points="843.8,626.2 855.0,626.2 849.4,616.0" fill="#f09c0c"/>
<polygon points="851.4,626.2 862.6,626.2 857.0,616.0" fill="#f09c0c"/>
<polygon points="859.0,626.2 870.2,626.2 864.6,616.0" fill="#f09c0c"/>
<circle cx="107.5" cy="697.9" r="3.5" fill="none" stroke="#dc4454" stroke-width="3.0"/>
<circle cx="115.2" cy="744.0" r="3.5" fill="none" stroke="#dc4454" stroke-width="3.0"/>
<circle cx="122.8" cy="770.9" r="3.5" fill="none" stroke="#dc4454" stroke-width="3.0"/>
<circle cx="130.5" cy="788.1" r="3.5" fill="none" stroke="#dc4454" stroke-width="3.0"/>
<circle cx="138.1" cy="802.5" r="3.5" fill="none" stroke="#dc4454" stroke-width="3.0"/>
<circle cx="145.8" cy="814.1" r="3.5" fill="none" stroke="#dc4454" stroke-width="3.0"/>
<circle cx="153.4" cy="824.6" r="3.5" fill="none" stroke="#dc4454" stroke-width="3.0"/>
<circle cx="161.1" cy="846.7" r="3.5" fill="none" stroke="#dc4454" stroke-width="3.0"/>
<circle cx="168.7" cy="847.7" r="3.5" fill="none" stroke="#dc4454" stroke-width="3.0"/>
<circle cx="176.4" cy="853.4" r="3.5" fill="none" stroke="#dc4454" stroke-width="3.0"/>
<circle cx="184.0" cy="876.5" r="3.5" fill="none" stroke="#dc4454" stroke-width="3.0"/>
<circle cx="191.7" cy="899.5" r="3.5" fill="none" stroke="#dc4454" stroke-width="3.0"/>
<polygon points="608.7,829.5 623.7,829.5 616.2,817.0" fill="#f09c0c"/>
<circle cx="615.9" cy="853.4" r="4.8" fill="none" stroke="#dc4454" stroke-width="2.6"/>
<text x="649.0" y="833.8" font-size="22.7" fill="#2b2b2b" text-anchor="start">[Li(G3)][BETA]/PC</text>
<text x="649.0" y="863.6" font-size="22.7" fill="#2b2b2b" text-anchor="start">[Li(G3)][TFSA]/PC</text>
<polygon points="103.6,952.7 111.4,952.7 107.5,945.9" fill="none" stroke="#f2a62a" stroke-width="2.1" stroke-linejoin="round"/>
<polygon points="111.3,953.4 119.1,953.4 115.2,946.6" fill="none" stroke="#f2a62a" stroke-width="2.1" stroke-linejoin="round"/>
<polygon points="118.9,954.0 126.7,954.0 122.8,947.2" fill="none" stroke="#f2a62a" stroke-width="2.1" stroke-linejoin="round"/>
<polygon points="126.6,954.6 134.4,954.6 130.5,947.8" fill="none" stroke="#f2a62a" stroke-width="2.1" stroke-linejoin="round"/>
<polygon points="134.2,955.2 142.0,955.2 138.1,948.4" fill="none" stroke="#f2a62a" stroke-width="2.1" stroke-linejoin="round"/>
<polygon points="141.9,955.8 149.7,955.8 145.8,949.0" fill="none" stroke="#f2a62a" stroke-width="2.1" stroke-linejoin="round"/>
<polygon points="149.5,956.4 157.3,956.4 153.4,949.6" fill="none" stroke="#f2a62a" stroke-width="2.1" stroke-linejoin="round"/>
<polygon points="157.2,957.0 165.0,957.0 161.1,950.2" fill="none" stroke="#f2a62a" stroke-width="2.1" stroke-linejoin="round"/>
<polygon points="164.8,957.7 172.6,957.7 168.7,950.9" fill="none" stroke="#f2a62a" stroke-width="2.1" stroke-linejoin="round"/>
<polygon points="172.5,958.3 180.3,958.3 176.4,951.5" fill="none" stroke="#f2a62a" stroke-width="2.1" stroke-linejoin="round"/>
<polygon points="180.1,959.1 187.9,959.1 184.0,952.3" fill="none" stroke="#f2a62a" stroke-width="2.1" stroke-linejoin="round"/>
<polygon points="187.8,960.0 195.6,960.0 191.7,953.2" fill="none" stroke="#f2a62a" stroke-width="2.1" stroke-linejoin="round"/>
<polygon points="195.4,960.8 203.2,960.8 199.3,954.0" fill="none" stroke="#f2a62a" stroke-width="2.1" stroke-linejoin="round"/>
<polygon points="203.1,961.7 210.9,961.7 207.0,954.9" fill="none" stroke="#f2a62a" stroke-width="2.1" stroke-linejoin="round"/>
<polygon points="210.7,962.6 218.5,962.6 214.6,955.8" fill="none" stroke="#f2a62a" stroke-width="2.1" stroke-linejoin="round"/>
<polygon points="218.4,963.4 226.2,963.4 222.3,956.6" fill="none" stroke="#f2a62a" stroke-width="2.1" stroke-linejoin="round"/>
<polygon points="226.0,964.3 233.8,964.3 229.9,957.5" fill="none" stroke="#f2a62a" stroke-width="2.1" stroke-linejoin="round"/>
<polygon points="233.7,965.1 241.5,965.1 237.6,958.3" fill="none" stroke="#f2a62a" stroke-width="2.1" stroke-linejoin="round"/>
<polygon points="241.3,966.0 249.1,966.0 245.2,959.2" fill="none" stroke="#f2a62a" stroke-width="2.1" stroke-linejoin="round"/>
<polygon points="248.9,966.8 256.8,966.8 252.8,960.0" fill="none" stroke="#f2a62a" stroke-width="2.1" stroke-linejoin="round"/>
<polygon points="256.6,967.9 264.4,967.9 260.5,961.1" fill="none" stroke="#f2a62a" stroke-width="2.1" stroke-linejoin="round"/>
<polygon points="264.2,969.0 272.0,969.0 268.1,962.2" fill="none" stroke="#f2a62a" stroke-width="2.1" stroke-linejoin="round"/>
<polygon points="271.9,970.1 279.7,970.1 275.8,963.3" fill="none" stroke="#f2a62a" stroke-width="2.1" stroke-linejoin="round"/>
<polygon points="279.5,971.1 287.3,971.1 283.4,964.3" fill="none" stroke="#f2a62a" stroke-width="2.1" stroke-linejoin="round"/>
<polygon points="287.2,972.2 295.0,972.2 291.1,965.4" fill="none" stroke="#f2a62a" stroke-width="2.1" stroke-linejoin="round"/>
<polygon points="294.8,973.3 302.6,973.3 298.7,966.5" fill="none" stroke="#f2a62a" stroke-width="2.1" stroke-linejoin="round"/>
<polygon points="302.5,974.4 310.3,974.4 306.4,967.6" fill="none" stroke="#f2a62a" stroke-width="2.1" stroke-linejoin="round"/>
<polygon points="310.1,975.4 317.9,975.4 314.0,968.6" fill="none" stroke="#f2a62a" stroke-width="2.1" stroke-linejoin="round"/>
<polygon points="317.8,976.5 325.6,976.5 321.7,969.7" fill="none" stroke="#f2a62a" stroke-width="2.1" stroke-linejoin="round"/>
<polygon points="325.4,977.6 333.2,977.6 329.3,970.8" fill="none" stroke="#f2a62a" stroke-width="2.1" stroke-linejoin="round"/>
<polygon points="333.1,978.7 340.9,978.7 337.0,971.9" fill="none" stroke="#f2a62a" stroke-width="2.1" stroke-linejoin="round"/>
<polygon points="340.7,980.1 348.5,980.1 344.6,973.3" fill="none" stroke="#f2a62a" stroke-width="2.1" stroke-linejoin="round"/>
<polygon points="348.4,981.4 356.2,981.4 352.3,974.6" fill="none" stroke="#f2a62a" stroke-width="2.1" stroke-linejoin="round"/>
<polygon points="356.0,982.8 363.8,982.8 359.9,976.0" fill="none" stroke="#f2a62a" stroke-width="2.1" stroke-linejoin="round"/>
<polygon points="363.7,984.2 371.5,984.2 367.6,977.4" fill="none" stroke="#f2a62a" stroke-width="2.1" stroke-linejoin="round"/>
<polygon points="371.3,985.6 379.1,985.6 375.2,978.8" fill="none" stroke="#f2a62a" stroke-width="2.1" stroke-linejoin="round"/>
<polygon points="379.0,987.0 386.8,987.0 382.9,980.2" fill="none" stroke="#f2a62a" stroke-width="2.1" stroke-linejoin="round"/>
<polygon points="386.6,988.4 394.4,988.4 390.5,981.6" fill="none" stroke="#f2a62a" stroke-width="2.1" stroke-linejoin="round"/>
<polygon points="394.3,989.8 402.1,989.8 398.2,983.0" fill="none" stroke="#f2a62a" stroke-width="2.1" stroke-linejoin="round"/>
<polygon points="401.9,991.2 409.7,991.2 405.8,984.4" fill="none" stroke="#f2a62a" stroke-width="2.1" stroke-linejoin="round"/>
<polygon points="409.5,992.8 417.3,992.8 413.4,986.0" fill="none" stroke="#f2a62a" stroke-width="2.1" stroke-linejoin="round"/>
<polygon points="417.2,994.3 425.0,994.3 421.1,987.5" fill="none" stroke="#f2a62a" stroke-width="2.1" stroke-linejoin="round"/>
<polygon points="424.8,995.8 432.6,995.8 428.7,989.0" fill="none" stroke="#f2a62a" stroke-width="2.1" stroke-linejoin="round"/>
<polygon points="432.5,997.3 440.3,997.3 436.4,990.5" fill="none" stroke="#f2a62a" stroke-width="2.1" stroke-linejoin="round"/>
<polygon points="440.1,998.8 447.9,998.8 444.0,992.0" fill="none" stroke="#f2a62a" stroke-width="2.1" stroke-linejoin="round"/>
<polygon points="447.8,1000.4 455.6,1000.4 451.7,993.6" fill="none" stroke="#f2a62a" stroke-width="2.1" stroke-linejoin="round"/>
<polygon points="455.4,1001.9 463.2,1001.9 459.3,995.1" fill="none" stroke="#f2a62a" stroke-width="2.1" stroke-linejoin="round"/>
<polygon points="463.1,1003.4 470.9,1003.4 467.0,996.6" fill="none" stroke="#f2a62a" stroke-width="2.1" stroke-linejoin="round"/>
<polygon points="470.7,995.6 478.5,995.6 474.6,988.8" fill="none" stroke="#f2a62a" stroke-width="2.1" stroke-linejoin="round"/>
<polygon points="478.4,1006.9 486.2,1006.9 482.3,1000.1" fill="none" stroke="#f2a62a" stroke-width="2.1" stroke-linejoin="round"/>
<polygon points="486.0,1008.8 493.8,1008.8 489.9,1002.0" fill="none" stroke="#f2a62a" stroke-width="2.1" stroke-linejoin="round"/>
<polygon points="493.7,1011.0 501.5,1011.0 497.6,1004.2" fill="none" stroke="#f2a62a" stroke-width="2.1" stroke-linejoin="round"/>
<polygon points="501.3,1012.2 509.1,1012.2 505.2,1005.4" fill="none" stroke="#f2a62a" stroke-width="2.1" stroke-linejoin="round"/>
<polygon points="509.0,1013.7 516.8,1013.7 512.9,1006.9" fill="none" stroke="#f2a62a" stroke-width="2.1" stroke-linejoin="round"/>
<polygon points="516.6,1006.9 524.4,1006.9 520.5,1000.1" fill="none" stroke="#f2a62a" stroke-width="2.1" stroke-linejoin="round"/>
<polygon points="524.3,1009.3 532.1,1009.3 528.2,1002.5" fill="none" stroke="#f2a62a" stroke-width="2.1" stroke-linejoin="round"/>
<polygon points="531.9,1017.7 539.7,1017.7 535.8,1010.9" fill="none" stroke="#f2a62a" stroke-width="2.1" stroke-linejoin="round"/>
<polygon points="539.6,1019.1 547.4,1019.1 543.5,1012.3" fill="none" stroke="#f2a62a" stroke-width="2.1" stroke-linejoin="round"/>
<polygon points="547.2,1020.5 555.0,1020.5 551.1,1013.7" fill="none" stroke="#f2a62a" stroke-width="2.1" stroke-linejoin="round"/>
<polygon points="554.9,1021.9 562.6,1021.9 558.8,1015.1" fill="none" stroke="#f2a62a" stroke-width="2.1" stroke-linejoin="round"/>
<polygon points="562.5,1023.3 570.3,1023.3 566.4,1016.5" fill="none" stroke="#f2a62a" stroke-width="2.1" stroke-linejoin="round"/>
<polygon points="570.1,1024.7 577.9,1024.7 574.0,1017.9" fill="none" stroke="#f2a62a" stroke-width="2.1" stroke-linejoin="round"/>
<polygon points="577.8,1026.1 585.6,1026.1 581.7,1019.3" fill="none" stroke="#f2a62a" stroke-width="2.1" stroke-linejoin="round"/>
<polygon points="585.4,1027.5 593.2,1027.5 589.3,1020.7" fill="none" stroke="#f2a62a" stroke-width="2.1" stroke-linejoin="round"/>
<polygon points="593.1,1028.9 600.9,1028.9 597.0,1022.1" fill="none" stroke="#f2a62a" stroke-width="2.1" stroke-linejoin="round"/>
<polygon points="600.7,1030.3 608.5,1030.3 604.6,1023.5" fill="none" stroke="#f2a62a" stroke-width="2.1" stroke-linejoin="round"/>
<polygon points="608.4,1032.0 616.2,1032.0 612.3,1025.2" fill="none" stroke="#f2a62a" stroke-width="2.1" stroke-linejoin="round"/>
<polygon points="616.0,1033.8 623.8,1033.8 619.9,1027.0" fill="none" stroke="#f2a62a" stroke-width="2.1" stroke-linejoin="round"/>
<polygon points="623.7,1035.6 631.5,1035.6 627.6,1028.8" fill="none" stroke="#f2a62a" stroke-width="2.1" stroke-linejoin="round"/>
<polygon points="631.3,1037.3 639.1,1037.3 635.2,1030.5" fill="none" stroke="#f2a62a" stroke-width="2.1" stroke-linejoin="round"/>
<polygon points="639.0,1032.4 646.8,1032.4 642.9,1025.6" fill="none" stroke="#f2a62a" stroke-width="2.1" stroke-linejoin="round"/>
<polygon points="646.6,1041.5 654.4,1041.5 650.5,1034.7" fill="none" stroke="#f2a62a" stroke-width="2.1" stroke-linejoin="round"/>
<polygon points="654.3,1041.3 662.1,1041.3 658.2,1034.5" fill="none" stroke="#f2a62a" stroke-width="2.1" stroke-linejoin="round"/>
<polygon points="661.9,1042.7 669.7,1042.7 665.8,1035.9" fill="none" stroke="#f2a62a" stroke-width="2.1" stroke-linejoin="round"/>
<polygon points="669.6,1044.0 677.4,1044.0 673.5,1037.2" fill="none" stroke="#f2a62a" stroke-width="2.1" stroke-linejoin="round"/>
<polygon points="677.2,1045.3 685.0,1045.3 681.1,1038.5" fill="none" stroke="#f2a62a" stroke-width="2.1" stroke-linejoin="round"/>
<polygon points="684.9,1046.7 692.7,1046.7 688.8,1039.9" fill="none" stroke="#f2a62a" stroke-width="2.1" stroke-linejoin="round"/>
<polygon points="692.5,1048.0 700.3,1048.0 696.4,1041.2" fill="none" stroke="#f2a62a" stroke-width="2.1" stroke-linejoin="round"/>
<polygon points="700.2,1049.3 708.0,1049.3 704.1,1042.5" fill="none" stroke="#f2a62a" stroke-width="2.1" stroke-linejoin="round"/>
<polygon points="707.8,1050.7 715.6,1050.7 711.7,1043.9" fill="none" stroke="#f2a62a" stroke-width="2.1" stroke-linejoin="round"/>
<polygon points="715.4,1052.0 723.2,1052.0 719.3,1045.2" fill="none" stroke="#f2a62a" stroke-width="2.1" stroke-linejoin="round"/>
<polygon points="723.1,1053.4 730.9,1053.4 727.0,1046.6" fill="none" stroke="#f2a62a" stroke-width="2.1" stroke-linejoin="round"/>
<polygon points="730.7,1054.8 738.5,1054.8 734.6,1048.0" fill="none" stroke="#f2a62a" stroke-width="2.1" stroke-linejoin="round"/>
<polygon points="738.4,1056.2 746.2,1056.2 742.3,1049.4" fill="none" stroke="#f2a62a" stroke-width="2.1" stroke-linejoin="round"/>
<polygon points="746.0,1057.5 753.8,1057.5 749.9,1050.7" fill="none" stroke="#f2a62a" stroke-width="2.1" stroke-linejoin="round"/>
<polygon points="753.7,1058.9 761.5,1058.9 757.6,1052.1" fill="none" stroke="#f2a62a" stroke-width="2.1" stroke-linejoin="round"/>
<polygon points="761.3,1060.3 769.1,1060.3 765.2,1053.5" fill="none" stroke="#f2a62a" stroke-width="2.1" stroke-linejoin="round"/>
<polygon points="769.0,1061.6 776.8,1061.6 772.9,1054.8" fill="none" stroke="#f2a62a" stroke-width="2.1" stroke-linejoin="round"/>
<polygon points="776.6,1063.0 784.4,1063.0 780.5,1056.2" fill="none" stroke="#f2a62a" stroke-width="2.1" stroke-linejoin="round"/>
<polygon points="784.3,1064.4 792.1,1064.4 788.2,1057.6" fill="none" stroke="#f2a62a" stroke-width="2.1" stroke-linejoin="round"/>
<polygon points="791.9,1065.8 799.7,1065.8 795.8,1059.0" fill="none" stroke="#f2a62a" stroke-width="2.1" stroke-linejoin="round"/>
<polygon points="799.6,1067.2 807.4,1067.2 803.5,1060.4" fill="none" stroke="#f2a62a" stroke-width="2.1" stroke-linejoin="round"/>
<polygon points="807.2,1068.6 815.0,1068.6 811.1,1061.8" fill="none" stroke="#f2a62a" stroke-width="2.1" stroke-linejoin="round"/>
<polygon points="814.9,1069.9 822.7,1069.9 818.8,1063.1" fill="none" stroke="#f2a62a" stroke-width="2.1" stroke-linejoin="round"/>
<polygon points="822.5,1071.3 830.3,1071.3 826.4,1064.5" fill="none" stroke="#f2a62a" stroke-width="2.1" stroke-linejoin="round"/>
<polygon points="830.2,1072.7 838.0,1072.7 834.1,1065.9" fill="none" stroke="#f2a62a" stroke-width="2.1" stroke-linejoin="round"/>
<polygon points="837.8,1074.1 845.6,1074.1 841.7,1067.3" fill="none" stroke="#f2a62a" stroke-width="2.1" stroke-linejoin="round"/>
<polygon points="845.5,1075.5 853.3,1075.5 849.4,1068.7" fill="none" stroke="#f2a62a" stroke-width="2.1" stroke-linejoin="round"/>
<polygon points="853.1,1076.9 860.9,1076.9 857.0,1070.1" fill="none" stroke="#f2a62a" stroke-width="2.1" stroke-linejoin="round"/>
<polygon points="860.8,1078.3 868.5,1078.3 864.6,1071.5" fill="none" stroke="#f2a62a" stroke-width="2.1" stroke-linejoin="round"/>
<circle cx="107.5" cy="968.4" r="4.2" fill="#e0101e"/>
<circle cx="115.2" cy="976.0" r="4.2" fill="#e0101e"/>
<circle cx="122.8" cy="978.3" r="4.2" fill="#e0101e"/>
<circle cx="130.5" cy="981.7" r="4.2" fill="#e0101e"/>
<circle cx="138.1" cy="986.9" r="4.2" fill="#e0101e"/>
<circle cx="145.8" cy="994.3" r="4.2" fill="#e0101e"/>
<circle cx="153.4" cy="1003.8" r="4.2" fill="#e0101e"/>
<circle cx="161.1" cy="1019.5" r="4.2" fill="#e0101e"/>
<circle cx="168.7" cy="1031.8" r="4.2" fill="#e0101e"/>
<circle cx="176.4" cy="1054.9" r="4.2" fill="#e0101e"/>
<circle cx="184.0" cy="1070.5" r="4.2" fill="#e0101e"/>
<circle cx="191.7" cy="1099.5" r="4.2" fill="#e0101e"/>
<circle cx="199.3" cy="1121.6" r="4.2" fill="#e0101e"/>
<circle cx="207.0" cy="1157.6" r="4.2" fill="#e0101e"/>
<circle cx="214.6" cy="1181.0" r="4.2" fill="#e0101e"/>
<circle cx="222.3" cy="1196.0" r="4.2" fill="#e0101e"/>
<circle cx="229.9" cy="1203.3" r="4.2" fill="#e0101e"/>
<circle cx="237.6" cy="1207.9" r="4.2" fill="#e0101e"/>
<circle cx="245.2" cy="1210.5" r="4.2" fill="#e0101e"/>
<circle cx="252.8" cy="1210.1" r="4.2" fill="#e0101e"/>
<circle cx="260.5" cy="1210.7" r="4.2" fill="#e0101e"/>
<circle cx="268.1" cy="1211.1" r="4.2" fill="#e0101e"/>
<circle cx="275.8" cy="1211.1" r="4.2" fill="#e0101e"/>
<circle cx="283.4" cy="1211.3" r="4.2" fill="#e0101e"/>
<circle cx="291.1" cy="1211.3" r="4.2" fill="#e0101e"/>
<circle cx="298.7" cy="1211.5" r="4.2" fill="#e0101e"/>
<circle cx="306.4" cy="1211.5" r="4.2" fill="#e0101e"/>
<circle cx="314.0" cy="1211.5" r="4.2" fill="#e0101e"/>
<circle cx="321.7" cy="1211.5" r="4.2" fill="#e0101e"/>
<circle cx="329.3" cy="1211.7" r="4.2" fill="#e0101e"/>
<polygon points="609.6,1141.7 622.1,1141.7 615.9,1131.2" fill="none" stroke="#f09c0c" stroke-width="2.2" stroke-linejoin="round"/>
<circle cx="615.9" cy="1166.6" r="5.4" fill="#e0101e"/>
<text x="649.0" y="1145.4" font-size="22.7" fill="#2b2b2b" text-anchor="start">[Li(G3)][BETA]/PC</text>
<text x="649.0" y="1174.8" font-size="22.7" fill="#2b2b2b" text-anchor="start">[Li(G3)][TFSA]/PC</text>
</svg></body></html>
